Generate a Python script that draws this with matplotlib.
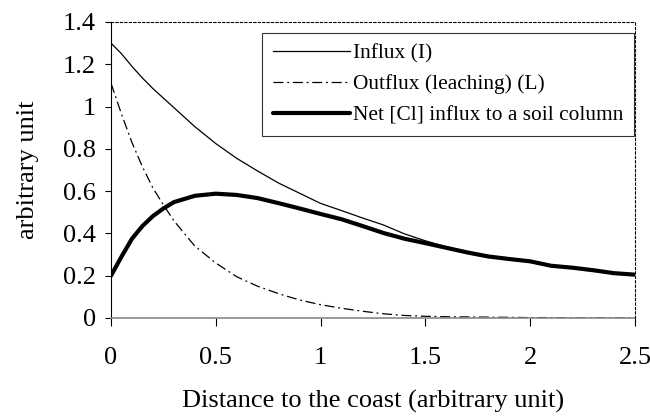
import matplotlib
matplotlib.use("Agg")
import matplotlib.pyplot as plt

# ------------------ valores ------------------
distancia = [0, 0.05, 0.1, 0.15, 0.2, 0.25, 0.3, 0.4, 0.5, 0.6, 0.7, 0.8, 0.9,
             1.0, 1.1, 1.2, 1.3, 1.4, 1.5, 1.6, 1.7, 1.8, 1.9, 2.0, 2.1, 2.2,
             2.3, 2.4, 2.5]

influx = [1.30, 1.25, 1.19, 1.135, 1.085, 1.04, 0.995, 0.905, 0.825, 0.755,
          0.695, 0.638, 0.59, 0.542, 0.508, 0.473, 0.44, 0.398, 0.365, 0.336,
          0.313, 0.294, 0.281, 0.268, 0.247, 0.238, 0.226, 0.212, 0.205]

outflux = [1.11, 0.965, 0.83, 0.715, 0.615, 0.535, 0.46, 0.34, 0.26, 0.195,
           0.15, 0.115, 0.085, 0.063, 0.046, 0.032, 0.02, 0.012, 0.008, 0.006,
           0.005, 0.004, 0.003, 0.002, 0.002, 0.001, 0.001, 0.001, 0.001]

neto = [0.20, 0.29, 0.375, 0.435, 0.482, 0.518, 0.548, 0.578, 0.588, 0.582,
        0.567, 0.543, 0.518, 0.492, 0.467, 0.435, 0.402, 0.375, 0.354, 0.332,
        0.31, 0.291, 0.279, 0.268, 0.247, 0.238, 0.226, 0.212, 0.205]

etiquetas = ["Influx (I)", "Outflux (leaching) (L)", "Net [Cl] influx to a soil column"]
x_ticks = [0, 0.5, 1, 1.5, 2, 2.5]
x_tick_labels = ["0", "0.5", "1", "1.5", "2", "2.5"]
y_ticks = [0, 0.2, 0.4, 0.6, 0.8, 1.0, 1.2, 1.4]
y_tick_labels = ["0", "0.2", "0.4", "0.6", "0.8", "1", "1.2", "1.4"]
# ----------------------------------------------------------------

plt.rcParams["font.family"] = ["Liberation Serif", "DejaVu Serif"]

fig = plt.figure(figsize=(6.5, 4.18), dpi=100)
ax = fig.add_axes([111 / 650, 1 - 318 / 418, 524 / 650, 296 / 418])

ax.plot(distancia, influx, color="black", lw=0.9, label=etiquetas[0])
ax.plot(distancia, outflux, color="black", lw=0.9, dashes=(8, 3, 1.5, 3),
        label=etiquetas[1])
ax.plot(distancia, neto, color="black", lw=3.0, solid_capstyle="round",
        label=etiquetas[2])

ax.set_xlim(0, 2.5)
ax.set_ylim(0, 1.4)
ax.set_xticks(x_ticks)
ax.set_xticklabels(x_tick_labels)
ax.set_yticks(y_ticks)
ax.set_yticklabels(y_tick_labels)

ax.tick_params(axis="both", direction="out", labelsize=19, color="black")
ax.tick_params(axis="x", length=6, width=0.8, pad=15)
ax.tick_params(axis="y", length=4, width=0.8, pad=7)

# bordes estilo Excel
ax.spines["left"].set_linewidth(0.8)
ax.spines["left"].set_color("black")
for lado in ["top", "right"]:
    ax.spines[lado].set_linestyle((0, (2, 2)))
    ax.spines[lado].set_linewidth(0.8)
    ax.spines[lado].set_color("black")
ax.spines["bottom"].set_linestyle((0, (2, 1)))
ax.spines["bottom"].set_linewidth(1.2)
ax.spines["bottom"].set_color("#888888")

ax.set_xlabel("Distance to the coast (arbitrary unit)", fontsize=19, labelpad=15)
ax.set_ylabel("arbitrary unit", fontsize=19, labelpad=17)

leg = ax.legend(loc="upper right", bbox_to_anchor=(634 / 650, 1 - 33 / 418),
                bbox_transform=fig.transFigure, fontsize=15.4, frameon=True,
                fancybox=False, borderaxespad=0, handlelength=3.6,
                handletextpad=0.15, labelspacing=0.5, borderpad=0.5)
leg.get_frame().set_edgecolor("black")
leg.get_frame().set_linewidth(0.8)

fig.savefig("out.png", dpi=100)
